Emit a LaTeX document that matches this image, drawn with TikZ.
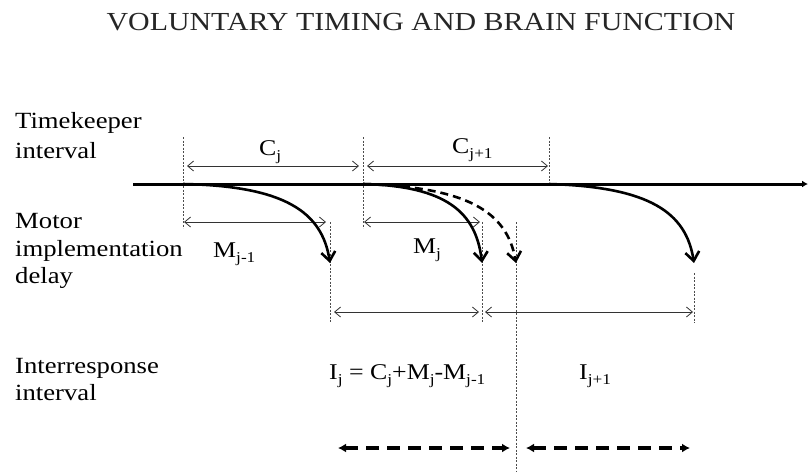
\documentclass[tikz,border=0pt]{standalone}
\usepackage{fontspec}
\setmainfont{Liberation Serif}[FakeStretch=1.15]
\usetikzlibrary{arrows.meta}
\newcommand\sbx[1]{\raisebox{-0.5ex}{\fontsize{15}{15}\selectfont #1}}
\begin{document}
\begin{tikzpicture}[x=1pt,y=-1pt,
  lbl/.style={anchor=base west,inner sep=0pt,font=\fontsize{23.2}{26}\selectfont},
  sym/.style={anchor=base west,inner sep=0pt,font=\fontsize{22.5}{25}\selectfont},
  guide/.style={line width=0.7pt,black!70,dash pattern=on 2.2pt off 1.3pt},
  dim/.style={line width=0.8pt,black!80,{Straight Barb[length=6pt,width=10pt]}-{Straight Barb[length=6pt,width=10pt]}},
  resp/.style={line width=2.6pt,-{Straight Barb[length=9pt,width=14pt]}},
  respdash/.style={resp,dash pattern=on 8pt off 5pt},
  irdash/.style={line width=3.5pt,dash pattern=on 13pt off 8pt,{Latex[length=8pt,width=9pt]}-{Latex[length=8pt,width=9pt]}},
  axis/.style={line width=3pt,-{Latex[length=6pt,width=7pt]}}]
\useasboundingbox (0,0) rectangle (808,472);
% title
\node[anchor=base,inner sep=0pt,font=\fontsize{26}{30}\selectfont,text=black!85] (title) at (421,30) {VOLUNTARY TIMING AND BRAIN FUNCTION};
% left labels
\node[lbl] (tk1) at (15,128) {Timekeeper};
\node[lbl] (tk2) at (15,158) {interval};
\node[lbl] (mo1) at (15,228) {Motor};
\node[lbl] (mo2) at (15,256) {implementation};
\node[lbl] (mo3) at (15,283) {delay};
\node[lbl] (ir1) at (15,373) {Interresponse};
\node[lbl] (ir2) at (15,400) {interval};
% coordinates
\coordinate (ax0) at (133,184);
\coordinate (ax1) at (808,184);
\coordinate (s1) at (183,184);
\coordinate (s2) at (363,184);
\coordinate (s3) at (549,184);
\coordinate (e1) at (330,263);
\coordinate (e2) at (482,263);
\coordinate (e2d) at (516,263);
\coordinate (e3) at (694,263);
% guide lines
\coordinate (g1a) at (183,137); \coordinate (g1b) at (183,228);
\coordinate (g2a) at (363,137); \coordinate (g2b) at (363,228);
\coordinate (g3a) at (549,137); \coordinate (g3b) at (549,184);
\coordinate (g4a) at (330,222); \coordinate (g4b) at (330,323);
\coordinate (g5a) at (482,222); \coordinate (g5b) at (482,323);
\coordinate (g6a) at (516,222); \coordinate (g6b) at (516,472);
\coordinate (g7a) at (694,273); \coordinate (g7b) at (694,323);
\draw[guide] (g1a) -- (g1b);
\draw[guide] (g2a) -- (g2b);
\draw[guide] (g3a) -- (g3b);
\draw[guide] (g4a) -- (g4b);
\draw[guide] (g5a) -- (g5b);
\draw[guide] (g6a) -- (g6b);
\draw[guide] (g7a) -- (g7b);
% axis
\draw[axis] (ax0) -- (ax1);
% dimension arrows
\coordinate (c1a) at (187,166); \coordinate (c1b) at (359,166);
\coordinate (c2a) at (367,166); \coordinate (c2b) at (548,166);
\coordinate (m1a) at (184,222); \coordinate (m1b) at (326,222);
\coordinate (m2a) at (364,222); \coordinate (m2b) at (480,222);
\coordinate (i1a) at (334,312); \coordinate (i1b) at (479,312);
\coordinate (i2a) at (485,312); \coordinate (i2b) at (693,312);
\draw[dim] (c1a) -- (c1b);
\draw[dim] (c2a) -- (c2b);
\draw[dim] (m1a) -- (m1b);
\draw[dim] (m2a) -- (m2b);
\draw[dim] (i1a) -- (i1b);
\draw[dim] (i2a) -- (i2b);
% response curves
\draw[resp] (s1) .. controls (285,186) and (322,212) .. (e1);
\draw[resp] (s2) .. controls (446,186) and (476,212) .. (e2);
\draw[respdash] (s2) .. controls (468,187) and (507,212) .. (e2d);
\draw[resp] (s3) .. controls (649,187) and (686,212) .. (e3);
% bottom dashed arrows
\coordinate (b1a) at (338,448); \coordinate (b1b) at (510,448);
\coordinate (b2a) at (526,448); \coordinate (b2b) at (690,448);
\draw[irdash] (b1a) -- (b1b);
\draw[irdash] (b2a) -- (b2b);
% symbol labels
\node[sym] (cj) at (259,155) {C\sbx{j}};
\node[sym] (cj1) at (452,153) {C\sbx{j+1}};
\node[sym] (mj1) at (213,257) {M\sbx{j-1}};
\node[sym] (mj) at (413,253) {M\sbx{j}};
\node[sym] (ij) at (329,379) {I\sbx{j} = C\sbx{j}+M\sbx{j}-M\sbx{j-1}};
\node[sym] (ij1) at (579,379) {I\sbx{j+1}};
\end{tikzpicture}
\end{document}
